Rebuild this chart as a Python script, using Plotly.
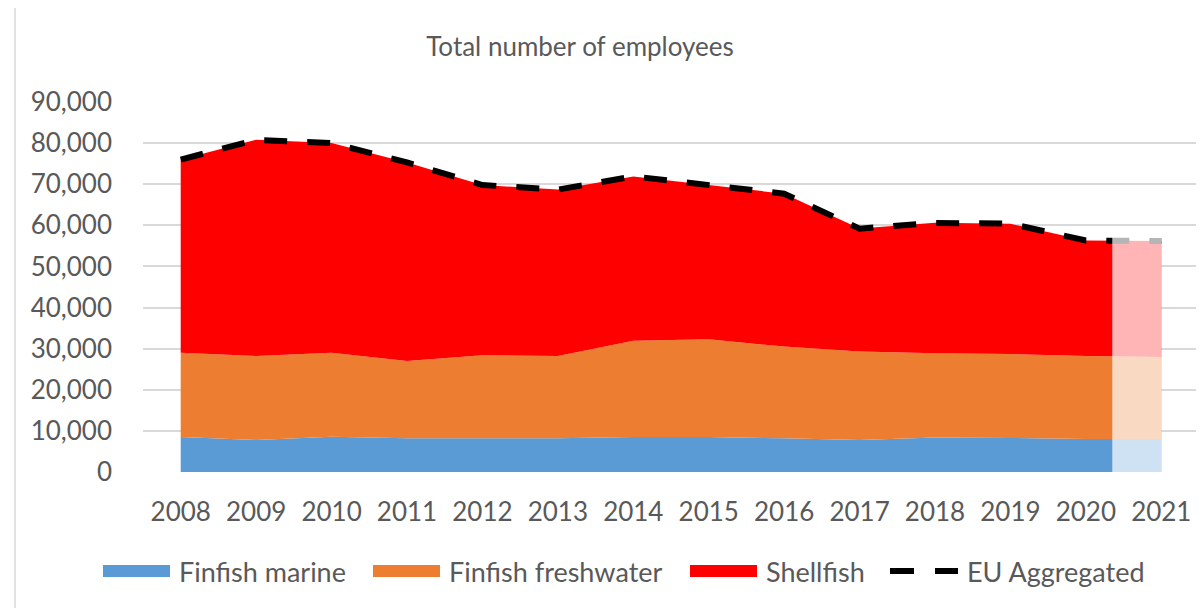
import plotly.graph_objects as go

years = [2008, 2009, 2010, 2011, 2012, 2013, 2014, 2015, 2016, 2017, 2018, 2019, 2020, 2021]
finfish_marine = [8500, 7800, 8600, 8200, 8200, 8200, 8500, 8500, 8200, 7800, 8400, 8300, 8000, 8000]
finfish_freshwater = [20500, 20400, 20400, 18800, 20200, 20000, 23400, 23800, 22300, 21500, 20500, 20400, 20200, 20000]
shellfish = [47000, 52600, 51000, 48300, 41400, 40500, 40000, 37500, 37200, 29900, 31700, 31700, 28100, 28200]
eu_aggregated = [76000, 80800, 80000, 75300, 69800, 68700, 71900, 69800, 67700, 59200, 60600, 60400, 56300, 56200]
series_names = ["Finfish marine", "Finfish freshwater", "Shellfish", "EU Aggregated"]
y_ticks = [0, 10000, 20000, 30000, 40000, 50000, 60000, 70000, 80000, 90000]
y_tick_labels = ["0", "10,000", "20,000", "30,000", "40,000", "50,000", "60,000", "70,000", "80,000", "90,000"]
faded_start = 2020.35

FONT = "Lato"
GREY = "#595959"
COLORS = ["#5B9BD5", "#ED7D31", "#FF0000"]

# page body has an 8px default margin; figure is sized to fit inside the 1204x608 window
W, H = 1196, 600
ML, MR, MT, MB = 135, 5, 94, 136
PW, PH = W - ML - MR, H - MT - MB


def px_x(px):  # window pixel -> paper x
    return (px - 8 - ML) / PW


def px_y(py):  # window pixel -> paper y
    return (H - MB + 8 - py) / PH


fig = go.Figure()
for name, vals, col in zip(series_names[:3], [finfish_marine, finfish_freshwater, shellfish], COLORS):
    fig.add_trace(go.Scatter(x=years, y=vals, name=name, stackgroup="one",
                             mode="lines", line=dict(width=0, color=col),
                             fillcolor=col, showlegend=False))
fig.add_trace(go.Scatter(x=years, y=eu_aggregated, name=series_names[3], mode="lines",
                         line=dict(color="black", width=6, dash="23px,20px"), showlegend=False))

# faded (estimated) last segment
fig.add_shape(type="rect", xref="x", yref="y", x0=faded_start, x1=years[-1], y0=0, y1=58500,
              fillcolor="rgba(255,255,255,0.71)", line=dict(width=0), layer="above")
# chart frame
fig.add_shape(type="rect", xref="paper", yref="paper", x0=px_x(15), x1=1.2, y0=-0.6, y1=px_y(6),
              line=dict(color="#d9d9d9", width=1.5), fillcolor="rgba(0,0,0,0)", layer="below")

# legend (drawn as shapes + text to reproduce the wide swatches)
leg_y = 571
swatch_x = [103, 373, 690]
for sx, col, name in zip(swatch_x, COLORS, series_names[:3]):
    fig.add_shape(type="rect", xref="paper", yref="paper",
                  x0=px_x(sx), x1=px_x(sx + 67), y0=px_y(leg_y + 6), y1=px_y(leg_y - 6),
                  fillcolor=col, line=dict(width=0))
    fig.add_annotation(xref="paper", yref="paper", x=px_x(sx + 74), y=px_y(leg_y),
                       xanchor="left", yanchor="middle", text=name, showarrow=False,
                       font=dict(family=FONT, size=27, color=GREY))
for d0, d1 in [(890, 914), (935, 958)]:
    fig.add_shape(type="line", xref="paper", yref="paper",
                  x0=px_x(d0), x1=px_x(d1), y0=px_y(leg_y), y1=px_y(leg_y),
                  line=dict(color="black", width=6))
fig.add_annotation(xref="paper", yref="paper", x=px_x(965), y=px_y(leg_y),
                   xanchor="left", yanchor="middle", text=series_names[3], showarrow=False,
                   font=dict(family=FONT, size=27, color=GREY))

fig.update_layout(
    width=W, height=H,
    margin=dict(l=ML, r=MR, t=MT, b=MB),
    paper_bgcolor="white", plot_bgcolor="white",
    font=dict(family=FONT, color=GREY, size=26),
    title=dict(text="Total number of employees", x=572 / W, xref="container", xanchor="center",
               y=1 - 39 / H, yref="container", yanchor="middle",
               font=dict(family=FONT, size=26, color=GREY)),
    xaxis=dict(range=[2007.5, 2021.5], tickmode="array", tickvals=years,
               ticktext=[str(y) for y in years], showgrid=False, zeroline=False,
               showline=False, ticks="", ticklabelstandoff=22,
               tickfont=dict(size=26, color=GREY)),
    yaxis=dict(range=[0, 90000], tickmode="array", tickvals=y_ticks, ticktext=y_tick_labels,
               showgrid=True, gridcolor="#d9d9d9", gridwidth=1.5, zeroline=False,
               showline=False, ticks="", ticklabelstandoff=30,
               tickfont=dict(size=26, color=GREY)),
    showlegend=False,
)

fig.write_html("out.html")
